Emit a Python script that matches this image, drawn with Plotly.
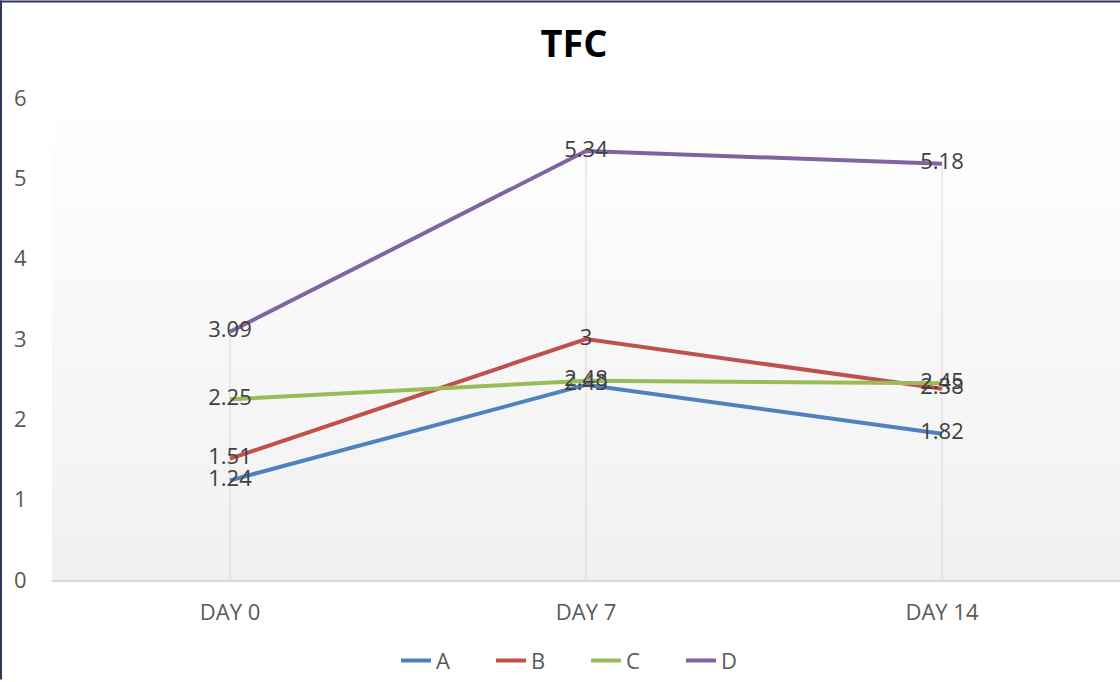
import plotly.graph_objects as go

categories = ["DAY 0", "DAY 7", "DAY 14"]
series_names = ["A", "B", "C", "D"]
A = [1.24, 2.43, 1.82]
B = [1.51, 3, 2.38]
C = [2.25, 2.48, 2.45]
D = [3.09, 5.34, 5.18]
colors = ["#4f81bd", "#c0504d", "#9bbb59", "#8064a2"]
y_ticks = [0, 1, 2, 3, 4, 5, 6]

W, H = 1120, 682
ml, mr, mt, mb = 52, 0, 98, 100
pw, ph = W - ml - mr, H - mt - mb

FONT = "Open Sans"
fig = go.Figure()

# drop lines (from the highest point of each category down to the axis)
all_series = [A, B, C, D]
dx, dy = [], []
for i, c in enumerate(categories):
    top = max(s[i] for s in all_series)
    dx += [c, c, None]
    dy += [top, 0, None]
fig.add_trace(go.Scatter(x=dx, y=dy, mode="lines", line=dict(color="#d9d9d9", width=1),
                         showlegend=False, hoverinfo="skip"))

for name, vals, col in zip(series_names, all_series, colors):
    fig.add_trace(go.Scatter(
        x=categories, y=vals, name=name, mode="lines+text",
        line=dict(color=col, width=4),
        text=[f"{v:g}" for v in vals], textposition="middle center",
        textfont=dict(family=FONT, size=22, color="#404040"),
    ))

# gradient background of the plot area
shapes = []
n = 60
for k in range(n):
    t = (k + 0.5) / n  # 0 bottom -> 1 top
    g = int(round(240 + (255 - 240) * t))
    shapes.append(dict(type="rect", xref="x domain", yref="y domain",
                       x0=0, x1=1, y0=k / n, y1=(k + 1) / n,
                       fillcolor=f"rgb({g},{g},{g})", line=dict(width=0), layer="below"))
# borders of the chart (left and top)
shapes.append(dict(type="line", xref="paper", yref="paper",
                   x0=-ml / pw + 1 / pw, x1=-ml / pw + 1 / pw, y0=-mb / ph, y1=1 + mt / ph,
                   line=dict(color="#2e3a5c", width=2), layer="above"))
shapes.append(dict(type="line", xref="paper", yref="paper",
                   x0=-ml / pw, x1=1, y0=1 + mt / ph - 1 / ph, y1=1 + mt / ph - 1 / ph,
                   line=dict(color="#2e3a5c", width=2), layer="above"))

fig.update_layout(
    width=W, height=H,
    margin=dict(l=ml, r=mr, t=mt, b=mb, pad=0),
    paper_bgcolor="white", plot_bgcolor="rgba(0,0,0,0)",
    title=dict(text="<b>TFC</b>", x=574 / W, xanchor="center", y=1 - 44 / H, yanchor="middle",
               font=dict(family=FONT, size=38, color="#000000")),
    shapes=shapes,
    showlegend=True,
    legend=dict(orientation="h", x=0.5, xanchor="center", y=-81 / ph, yanchor="middle",
                font=dict(family=FONT, size=22, color="#595959"), bgcolor="rgba(0,0,0,0)",
                entrywidth=50, entrywidthmode="pixels", tracegroupgap=0),
    xaxis=dict(type="category", categoryorder="array", categoryarray=categories,
               range=[-0.5, 2.5], showgrid=False, zeroline=False,
               showline=True, linecolor="#d9d9d9", linewidth=2,
               ticks="outside", ticklen=12, tickcolor="rgba(0,0,0,0)",
               tickfont=dict(family=FONT, size=22, color="#595959")),
    yaxis=dict(range=[0, 6], tickvals=y_ticks, showgrid=False, zeroline=False, showline=False,
               ticks="outside", ticklen=20, tickcolor="rgba(0,0,0,0)",
               tickfont=dict(family=FONT, size=22, color="#595959")),
)

fig.write_html("out.html", config={"displayModeBar": False},
               post_script="document.body.style.margin='0';document.body.style.padding='0';")
